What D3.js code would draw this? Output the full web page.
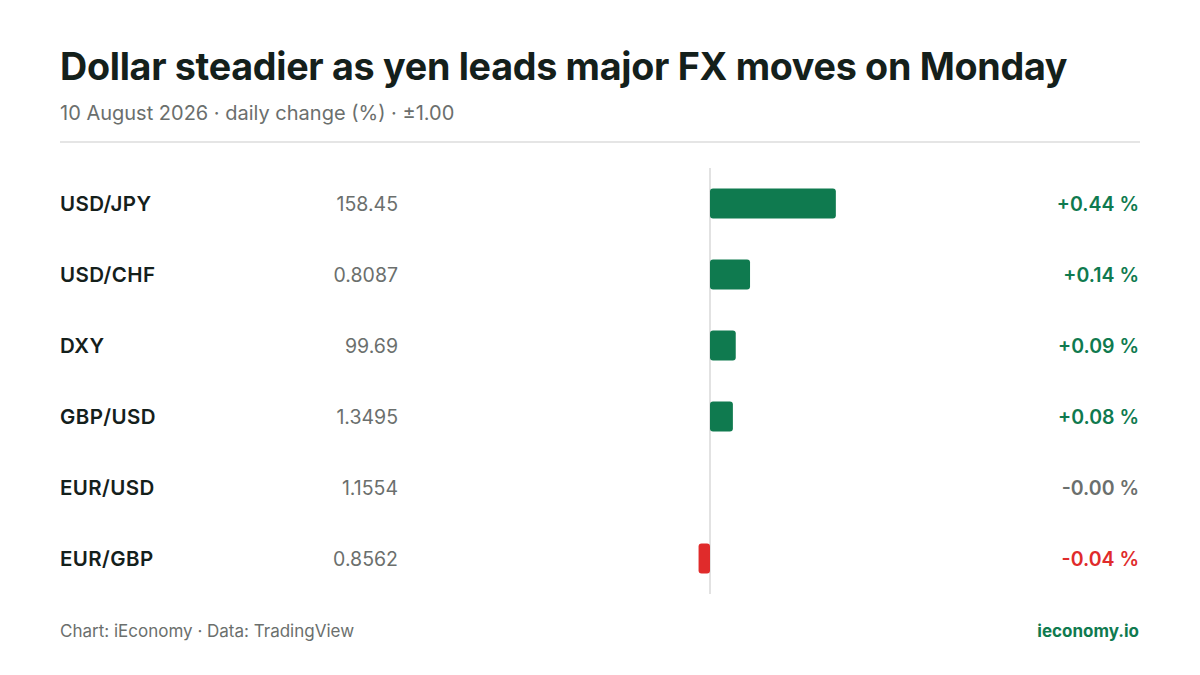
<!DOCTYPE html>
<html><head><meta charset="utf-8">
<script src="https://cdn.jsdelivr.net/npm/d3@7"></script>
<style>body{margin:0;background:#fff;font-family:Inter,"Noto Sans",sans-serif}</style>
</head><body><svg id="c" width="1200" height="675"></svg>
<script>
const pairs = ["USD/JPY","USD/CHF","DXY","GBP/USD","EUR/USD","EUR/GBP"];
const prices = ["158.45","0.8087","99.69","1.3495","1.1554","0.8562"];
const changes = [0.44,0.14,0.09,0.08,-0.001,-0.04];
const changeLabels = ["+0.44 %","+0.14 %","+0.09 %","+0.08 %","-0.00 %","-0.04 %"];
const domainMax = 1.00;

const svg = d3.select("#c");
svg.append("rect").attr("width",1200).attr("height",675).attr("fill","#fff");
svg.append("text").attr("x",60).attr("y",80).attr("font-size",37.7).attr("font-weight",700).attr("fill","#14201b").attr("letter-spacing",-0.3)
  .text("Dollar steadier as yen leads major FX moves on Monday");
svg.append("text").attr("x",60).attr("y",120).attr("font-size",20).attr("fill","#6b6f6d")
  .text("10 August 2026 · daily change (%) · ±1.00");
svg.append("line").attr("x1",60).attr("x2",1140).attr("y1",142).attr("y2",142).attr("stroke","#dcdcdc").attr("stroke-width",1.5);

const y = d3.scaleBand().domain(pairs).range([168,594]);
const x = d3.scaleLinear().domain([-domainMax,domainMax]).range([424,996]);
const green="#0f7a4f", red="#e02b2b", grey="#6b6f6d";
svg.append("line").attr("x1",x(0)).attr("x2",x(0)).attr("y1",168).attr("y2",594).attr("stroke","#d8d8d8").attr("stroke-width",1.5);

const g = svg.selectAll("g.row").data(pairs).join("g");
g.append("text").attr("x",60).attr("y",d=>y(d)+y.bandwidth()/2+7).attr("font-size",20.5).attr("font-weight",600).attr("letter-spacing",0.4).attr("fill","#14201b").text(d=>d);
g.append("text").attr("x",398).attr("text-anchor","end").attr("y",d=>y(d)+y.bandwidth()/2+7).attr("font-size",19.5).attr("fill",grey).text((d,i)=>prices[i]);
g.append("rect")
  .attr("x",(d,i)=>Math.min(x(0),x(changes[i])))
  .attr("width",(d,i)=>Math.abs(x(changes[i])-x(0)) < 1 ? 0 : Math.abs(x(changes[i])-x(0)))
  .attr("y",d=>y(d)+y.bandwidth()/2-15).attr("height",30).attr("rx",3)
  .attr("fill",(d,i)=>changes[i]>=0?green:red);
g.append("text").attr("x",1139).attr("text-anchor","end").attr("y",d=>y(d)+y.bandwidth()/2+7).attr("font-size",19.5).attr("font-weight",600)
  .attr("fill",(d,i)=>changeLabels[i]==="-0.00 %"?grey:(changes[i]>=0?green:red)).text((d,i)=>changeLabels[i]);

svg.append("text").attr("x",60).attr("y",637).attr("font-size",17).attr("fill",grey).text("Chart: iEconomy · Data: TradingView");
svg.append("text").attr("x",1139).attr("y",637).attr("text-anchor","end").attr("font-size",17).attr("font-weight",700).attr("fill",green).text("ieconomy.io");
</script></body></html>
